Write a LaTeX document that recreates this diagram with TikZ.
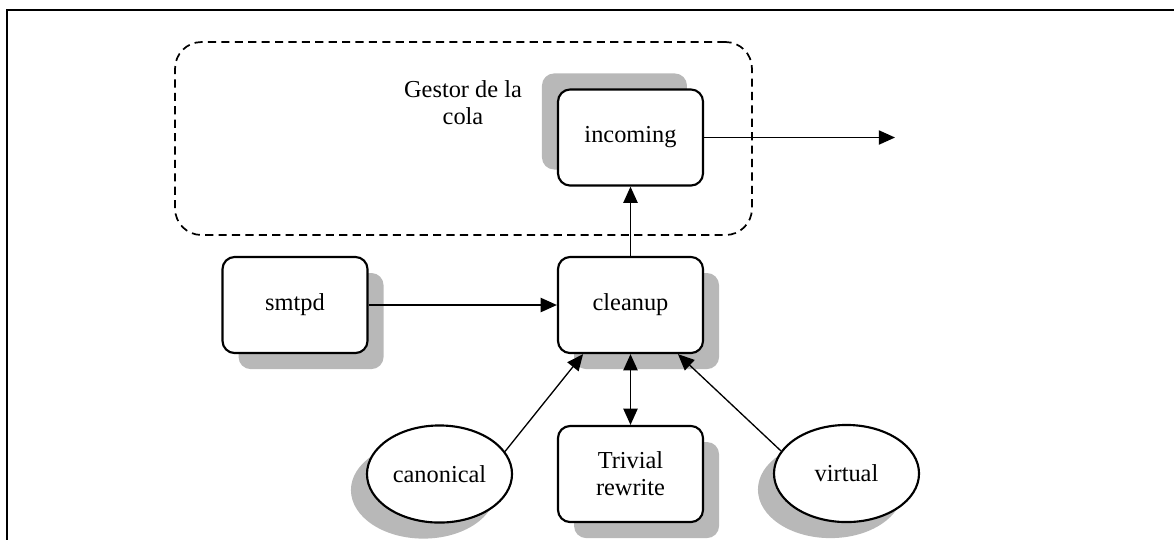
\documentclass[tikz,border=0pt]{standalone}
\usepackage{fontspec}
\setmainfont{Liberation Serif}
\usetikzlibrary{shapes.geometric,shadows,arrows.meta}

\begin{document}
\begin{tikzpicture}[x=0.4923pt, y=-0.4923pt,
  every node/.style = {align=center, font=\fontsize{12}{13.3}\selectfont},
  proc/.style = {shape=rectangle, rounded corners=6pt,
    draw, line width=1.05pt, fill=white, inner sep=0pt,
    minimum width=71.4pt, minimum height=47.3pt},
  table/.style = {shape=ellipse, draw, line width=1.05pt,
    fill=white, inner sep=0pt,
    minimum width=71.4pt, minimum height=47.8pt},
  shade dr/.style = {copy shadow={shadow xshift=7.9pt,
    shadow yshift=-7.9pt, fill=black!28, draw=none}},
  shade ul/.style = {copy shadow={shadow xshift=-7.9pt,
    shadow yshift=7.9pt, fill=black!28, draw=none}},
  shade dl/.style = {copy shadow={shadow xshift=-7.9pt,
    shadow yshift=-7.9pt, fill=black!28, draw=none}},
  flow/.style = {line width=0.8pt,
    -{Triangle[length=8pt,width=7pt]}}]
  \useasboundingbox (0,0) rectangle (1174,540);
  \draw[line width=1.1pt] (1174,10) -- (7,10) -- (7,540);

  % queue manager
  \node[draw, dashed, dash pattern=on 4pt off 2.6pt, line width=0.85pt,
    rounded corners=13pt, minimum width=284pt, minimum height=95pt]
    (gestor) at (463.5,138.5) {};
  \node (gestorlabel) at (463,103) {Gestor de la\\cola};
  \node[proc, shade ul] (incoming) at (630.5,137.5) {incoming};
  \coordinate (out) at (895,137.5);

  % daemons
  \node[proc, shade dr] (smtpd) at (295,305) {smtpd};
  \node[proc, shade dr] (cleanup) at (630.5,305) {cleanup};
  \node[proc, shade dr] (trivial) at (630.5,474) {Trivial\\rewrite};
  \node[table, shade dl] (canonical) at (439.5,474) {canonical};
  \node[table, shade dl] (virtual) at (846.5,473.5) {virtual};

  \draw[flow] (incoming) -- (out);
  \draw[flow] (cleanup) -- (incoming);
  \draw[flow] (smtpd) -- (cleanup);
  \draw[flow, {Triangle[length=8pt,width=7pt]}-{Triangle[length=8pt,width=7pt]}]
    (cleanup) -- (trivial);
  \draw[flow, line width=0.65pt] (canonical.19) -- (cleanup.226);
  \draw[flow, line width=0.65pt] (virtual.161) -- (cleanup.314);
\end{tikzpicture}
\end{document}
